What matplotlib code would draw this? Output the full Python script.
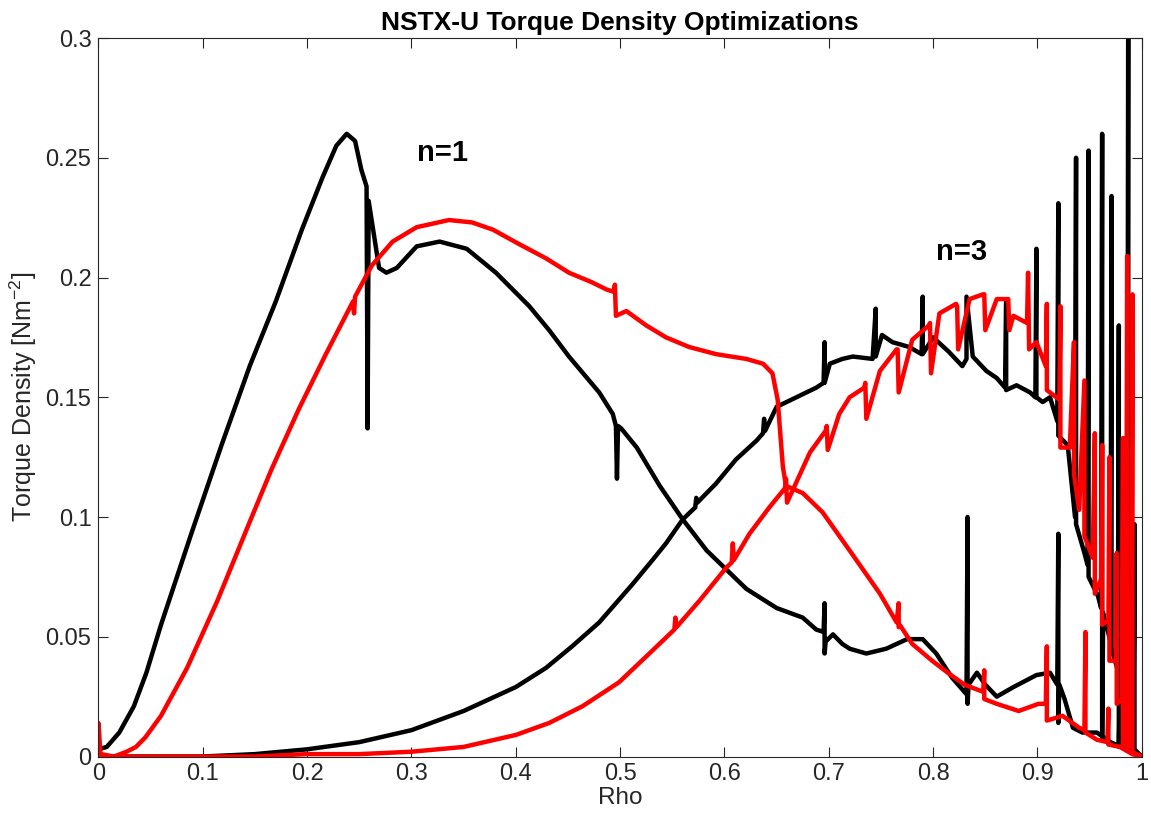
import matplotlib
matplotlib.use("Agg")
import matplotlib.pyplot as plt

plt.rcParams['font.family'] = ['Liberation Sans', 'DejaVu Sans']
plt.rcParams['mathtext.default'] = 'regular'

# black, n=1
rho_k1 = [0.000, 0.008, 0.020, 0.034, 0.046, 0.060, 0.089, 0.118, 0.145, 0.170,
          0.195, 0.215, 0.228, 0.238, 0.246, 0.252, 0.257, 0.258, 0.259, 0.269,
          0.276, 0.286, 0.305, 0.327, 0.353, 0.381, 0.413, 0.432, 0.451, 0.480,
          0.493, 0.496, 0.497, 0.498, 0.501, 0.516, 0.538, 0.560, 0.583, 0.602,
          0.621, 0.650, 0.675, 0.688, 0.695, 0.696, 0.696, 0.697, 0.704, 0.713,
          0.720, 0.736, 0.755, 0.775, 0.790, 0.803, 0.818, 0.832, 0.833, 0.833,
          0.834, 0.842, 0.850, 0.861, 0.877, 0.899, 0.912, 0.919, 0.920, 0.920,
          0.921, 0.926, 0.934, 0.943, 0.957, 0.970, 0.980, 0.990, 1.000]
val_k1 = [0.003, 0.004, 0.010, 0.021, 0.035, 0.055, 0.093, 0.130, 0.163, 0.190,
          0.220, 0.242, 0.255, 0.260, 0.257, 0.245, 0.238, 0.137, 0.232, 0.204,
          0.202, 0.204, 0.213, 0.215, 0.212, 0.202, 0.188, 0.178, 0.167, 0.152,
          0.143, 0.138, 0.116, 0.138, 0.137, 0.129, 0.113, 0.099, 0.086, 0.078,
          0.070, 0.062, 0.058, 0.053, 0.052, 0.064, 0.043, 0.048, 0.051, 0.047,
          0.045, 0.043, 0.045, 0.049, 0.049, 0.043, 0.033, 0.026, 0.100, 0.022,
          0.030, 0.035, 0.030, 0.025, 0.029, 0.034, 0.035, 0.030, 0.093, 0.014,
          0.030, 0.024, 0.012, 0.010, 0.010, 0.006, 0.004, 0.002, 0.000]

# red, n=1
rho_r1 = [0.000, 0.000, 0.002, 0.015, 0.027, 0.036, 0.045, 0.060, 0.085, 0.114,
          0.146, 0.166, 0.192, 0.218, 0.244, 0.245, 0.246, 0.262, 0.282, 0.305,
          0.336, 0.358, 0.378, 0.403, 0.429, 0.451, 0.473, 0.487, 0.494, 0.495,
          0.496, 0.506, 0.525, 0.544, 0.566, 0.592, 0.621, 0.637, 0.646, 0.651,
          0.656, 0.659, 0.675, 0.694, 0.720, 0.749, 0.765, 0.767, 0.767, 0.768,
          0.780, 0.799, 0.814, 0.830, 0.848, 0.849, 0.849, 0.861, 0.882, 0.901,
          0.908, 0.909, 0.909, 0.924, 0.940, 0.945, 0.946, 0.946, 0.957, 0.967,
          0.968, 0.968, 0.979, 0.991, 1.000]
val_r1 = [0.000, 0.014, 0.001, 0.000, 0.002, 0.004, 0.008, 0.017, 0.037, 0.065,
          0.099, 0.120, 0.145, 0.168, 0.190, 0.185, 0.192, 0.205, 0.215, 0.221,
          0.224, 0.223, 0.220, 0.214, 0.208, 0.202, 0.198, 0.195, 0.194, 0.197,
          0.184, 0.186, 0.180, 0.175, 0.171, 0.168, 0.166, 0.164, 0.160, 0.149,
          0.121, 0.113, 0.110, 0.102, 0.086, 0.068, 0.056, 0.064, 0.054, 0.055,
          0.047, 0.040, 0.035, 0.030, 0.027, 0.036, 0.024, 0.022, 0.019, 0.022,
          0.022, 0.046, 0.015, 0.017, 0.012, 0.011, 0.052, 0.010, 0.007, 0.006,
          0.020, 0.005, 0.004, 0.001, 0.000]

# black, n=3
rho_k3 = [0.000, 0.100, 0.150, 0.200, 0.250, 0.300, 0.350, 0.400, 0.429, 0.454,
          0.480, 0.496, 0.512, 0.531, 0.544, 0.560, 0.572, 0.573, 0.574, 0.592,
          0.611, 0.631, 0.637, 0.638, 0.639, 0.650, 0.669, 0.688, 0.695, 0.696,
          0.696, 0.701, 0.713, 0.723, 0.742, 0.745, 0.745, 0.751, 0.761, 0.777,
          0.789, 0.790, 0.790, 0.800, 0.815, 0.828, 0.832, 0.832, 0.838, 0.851,
          0.861, 0.869, 0.870, 0.870, 0.880, 0.893, 0.898, 0.899, 0.899, 0.905,
          0.912, 0.919, 0.920, 0.920, 0.929, 0.936, 0.937, 0.937, 0.945, 0.948,
          0.949, 0.949, 0.958, 0.961, 0.962, 0.962, 0.963, 0.970, 0.971, 0.971,
          0.977, 0.978, 0.978, 0.979, 0.986, 0.987, 0.987, 0.988, 0.992, 0.993,
          0.993, 1.000]
val_k3 = [0.000, 0.000, 0.001, 0.003, 0.006, 0.011, 0.019, 0.029, 0.037, 0.046,
          0.056, 0.064, 0.072, 0.082, 0.089, 0.099, 0.104, 0.108, 0.106, 0.114,
          0.124, 0.132, 0.135, 0.141, 0.136, 0.146, 0.150, 0.154, 0.156, 0.173,
          0.156, 0.164, 0.166, 0.167, 0.166, 0.187, 0.167, 0.176, 0.173, 0.171,
          0.168, 0.192, 0.168, 0.175, 0.169, 0.163, 0.166, 0.192, 0.167, 0.161,
          0.158, 0.154, 0.190, 0.153, 0.155, 0.152, 0.150, 0.212, 0.150, 0.148,
          0.150, 0.140, 0.231, 0.134, 0.130, 0.100, 0.250, 0.097, 0.085, 0.080,
          0.253, 0.075, 0.067, 0.062, 0.260, 0.008, 0.060, 0.048, 0.234, 0.045,
          0.036, 0.180, 0.004, 0.030, 0.018, 0.320, 0.003, 0.015, 0.008, 0.097,
          0.003, 0.000]

# red, n=3
rho_r3 = [0.000, 0.150, 0.200, 0.250, 0.300, 0.350, 0.400, 0.432, 0.464, 0.499,
          0.528, 0.552, 0.553, 0.554, 0.576, 0.602, 0.607, 0.608, 0.609, 0.624,
          0.643, 0.658, 0.659, 0.660, 0.682, 0.697, 0.698, 0.699, 0.710, 0.720,
          0.734, 0.735, 0.736, 0.749, 0.765, 0.766, 0.767, 0.780, 0.796, 0.797,
          0.798, 0.806, 0.822, 0.823, 0.824, 0.835, 0.848, 0.849, 0.850, 0.861,
          0.871, 0.872, 0.873, 0.877, 0.890, 0.891, 0.892, 0.899, 0.908, 0.909,
          0.909, 0.921, 0.922, 0.922, 0.931, 0.935, 0.935, 0.940, 0.945, 0.945,
          0.953, 0.955, 0.955, 0.961, 0.962, 0.962, 0.968, 0.969, 0.969, 0.975,
          0.976, 0.976, 0.981, 0.982, 0.982, 0.985, 0.986, 0.986, 0.990, 0.991,
          0.991, 0.995, 1.000]
val_r3 = [0.000, 0.000, 0.001, 0.001, 0.002, 0.004, 0.009, 0.014, 0.021, 0.031,
          0.043, 0.053, 0.058, 0.054, 0.065, 0.079, 0.081, 0.089, 0.082, 0.093,
          0.104, 0.112, 0.116, 0.106, 0.127, 0.136, 0.138, 0.128, 0.143, 0.150,
          0.154, 0.156, 0.141, 0.161, 0.170, 0.170, 0.152, 0.174, 0.180, 0.181,
          0.160, 0.185, 0.189, 0.188, 0.170, 0.191, 0.193, 0.193, 0.178, 0.191,
          0.191, 0.191, 0.178, 0.184, 0.181, 0.202, 0.170, 0.173, 0.163, 0.189,
          0.153, 0.149, 0.188, 0.129, 0.129, 0.173, 0.118, 0.103, 0.157, 0.092,
          0.083, 0.135, 0.068, 0.074, 0.130, 0.055, 0.057, 0.125, 0.040, 0.040,
          0.085, 0.022, 0.024, 0.133, 0.005, 0.012, 0.209, 0.003, 0.006, 0.193,
          0.002, 0.001, 0.000]

x_ticks = [0, 0.1, 0.2, 0.3, 0.4, 0.5, 0.6, 0.7, 0.8, 0.9, 1.0]
x_labels = ["0", "0.1", "0.2", "0.3", "0.4", "0.5", "0.6", "0.7", "0.8", "0.9", "1"]
y_ticks = [0, 0.05, 0.1, 0.15, 0.2, 0.25, 0.3]
y_labels = ["0", "0.05", "0.1", "0.15", "0.2", "0.25", "0.3"]

fig = plt.figure(figsize=(11.51, 8.19), dpi=100)
ax = fig.add_axes([0.0855, 0.0763, 0.9065, 0.8773])

lw = 3.2
for rho, val, col in [(rho_k1, val_k1, "black"), (rho_k3, val_k3, "black"),
                      (rho_r1, val_r1, "red"), (rho_r3, val_r3, "red")]:
    ax.plot(rho, val, color=col, lw=lw, solid_joinstyle="round", solid_capstyle="butt")

ax.text(0.330, 0.252, "n=1", fontsize=21, fontweight="bold", ha="center", va="center")
ax.text(0.827, 0.2105, "n=3", fontsize=21, fontweight="bold", ha="center", va="center")

ax.set_xlim(0, 1)
ax.set_ylim(0, 0.3)
ax.set_xticks(x_ticks)
ax.set_xticklabels(x_labels)
ax.set_yticks(y_ticks)
ax.set_yticklabels(y_labels)

grey = "#262626"
ax.tick_params(direction="in", length=7, width=0.8, top=True, right=True,
               labelsize=17, colors=grey, pad=5)
for s in ax.spines.values():
    s.set_color(grey)
    s.set_linewidth(0.8)

ax.set_title("NSTX-U Torque Density Optimizations", fontsize=19, fontweight="bold", pad=6)
ax.set_xlabel("Rho", fontsize=17.5, color=grey, labelpad=1)
ax.set_ylabel("Torque Density [Nm$^{-2}$]", fontsize=18, color=grey, labelpad=5)

fig.savefig("out.png", dpi=100)
